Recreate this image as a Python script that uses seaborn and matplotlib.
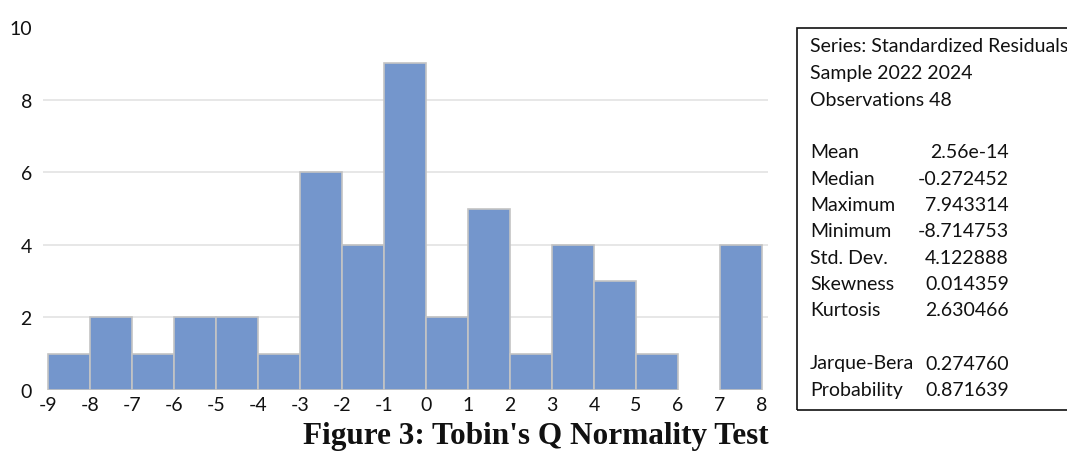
import numpy as np
import matplotlib
matplotlib.use("Agg")
import matplotlib.pyplot as plt
from matplotlib.patches import Rectangle
import seaborn as sns

# Data
bin_edges = [-9, -8, -7, -6, -5, -4, -3, -2, -1, 0, 1, 2, 3, 4, 5, 6, 7, 8]
counts = [1, 2, 1, 2, 2, 1, 6, 4, 9, 2, 5, 1, 4, 3, 1, 0, 4]
x_ticks = list(range(-9, 9))
y_ticks = [0, 2, 4, 6, 8, 10]
stat_labels = ["Mean", "Median", "Maximum", "Minimum", "Std. Dev.", "Skewness", "Kurtosis"]
stat_values = ["2.56e-14", "-0.272452", "7.943314", "-8.714753", "4.122888", "0.014359", "2.630466"]
test_labels = ["Jarque-Bera", "Probability"]
test_values = ["0.274760", "0.871639"]
header_lines = ["Series: Standardized Residuals", "Sample 2022 2024", "Observations 48"]
title = "Figure 3: Tobin's Q Normality Test"

sns.set_theme(style="white")
plt.rcParams['font.family'] = ['Lato', 'DejaVu Sans']

W, H = 1067, 452
fig = plt.figure(figsize=(W / 100, H / 100), dpi=100)
ax = fig.add_axes([43 / W, 1 - 391 / H, (768 - 43) / W, (391 - 28) / H])

centers = [(a + b) / 2 for a, b in zip(bin_edges[:-1], bin_edges[1:])]
sns.histplot(x=centers, weights=counts, bins=bin_edges, ax=ax,
             color="#7496CC", edgecolor="#C4C4C4", linewidth=1.2, alpha=1.0)
for p in ax.patches:
    if p.get_height() == 0:
        p.set_visible(False)

ax.set_xlim(-9 - 5 / 42, 8 + 6 / 42)
ax.set_ylim(0, 10)
ax.set_xticks(x_ticks)
ax.set_xticklabels([str(t) for t in x_ticks])
ax.set_yticks(y_ticks)
ax.set_yticklabels([str(t) for t in y_ticks])
ax.tick_params(axis="both", labelsize=14, length=0, colors="#111111")
ax.tick_params(axis="y", pad=8)
ax.tick_params(axis="x", pad=4)
ax.set_xlabel("")
ax.set_ylabel("")
for s in ax.spines.values():
    s.set_visible(False)
for yv in [2, 4, 6, 8]:
    ax.axhline(yv, color="#E3E3E3", linewidth=1.2, zorder=0)
ax.set_axisbelow(True)

fig.text(536 / W, 1 - 444 / H, title, ha="center", va="baseline",
         fontsize=22.5, fontweight="bold", color="#111111",
         family=["Liberation Serif", "DejaVu Serif"])

# Stats box
fig.add_artist(Rectangle((797 / W, 1 - 411 / H), (1080 - 797) / W, (411 - 29) / H,
                         transform=fig.transFigure, fill=False, edgecolor="#111111",
                         linewidth=1.2, clip_on=False))
fs = 14
xl = 810 / W
xr = 1009 / W
y = 46
for line in header_lines:
    fig.text(xl, 1 - y / H, line, ha="left", va="center", fontsize=fs, color="#111111")
    y += 27
y = 153
for lab, val in zip(stat_labels, stat_values):
    fig.text(xl, 1 - y / H, lab, ha="left", va="center", fontsize=fs, color="#111111")
    fig.text(xr, 1 - y / H, val, ha="right", va="center", fontsize=fs, color="#111111")
    y += 26.3
y = 364
for lab, val in zip(test_labels, test_values):
    fig.text(xl, 1 - y / H, lab, ha="left", va="center", fontsize=fs, color="#111111")
    fig.text(xr, 1 - y / H, val, ha="right", va="center", fontsize=fs, color="#111111")
    y += 27

fig.savefig("out.png", dpi=100)
